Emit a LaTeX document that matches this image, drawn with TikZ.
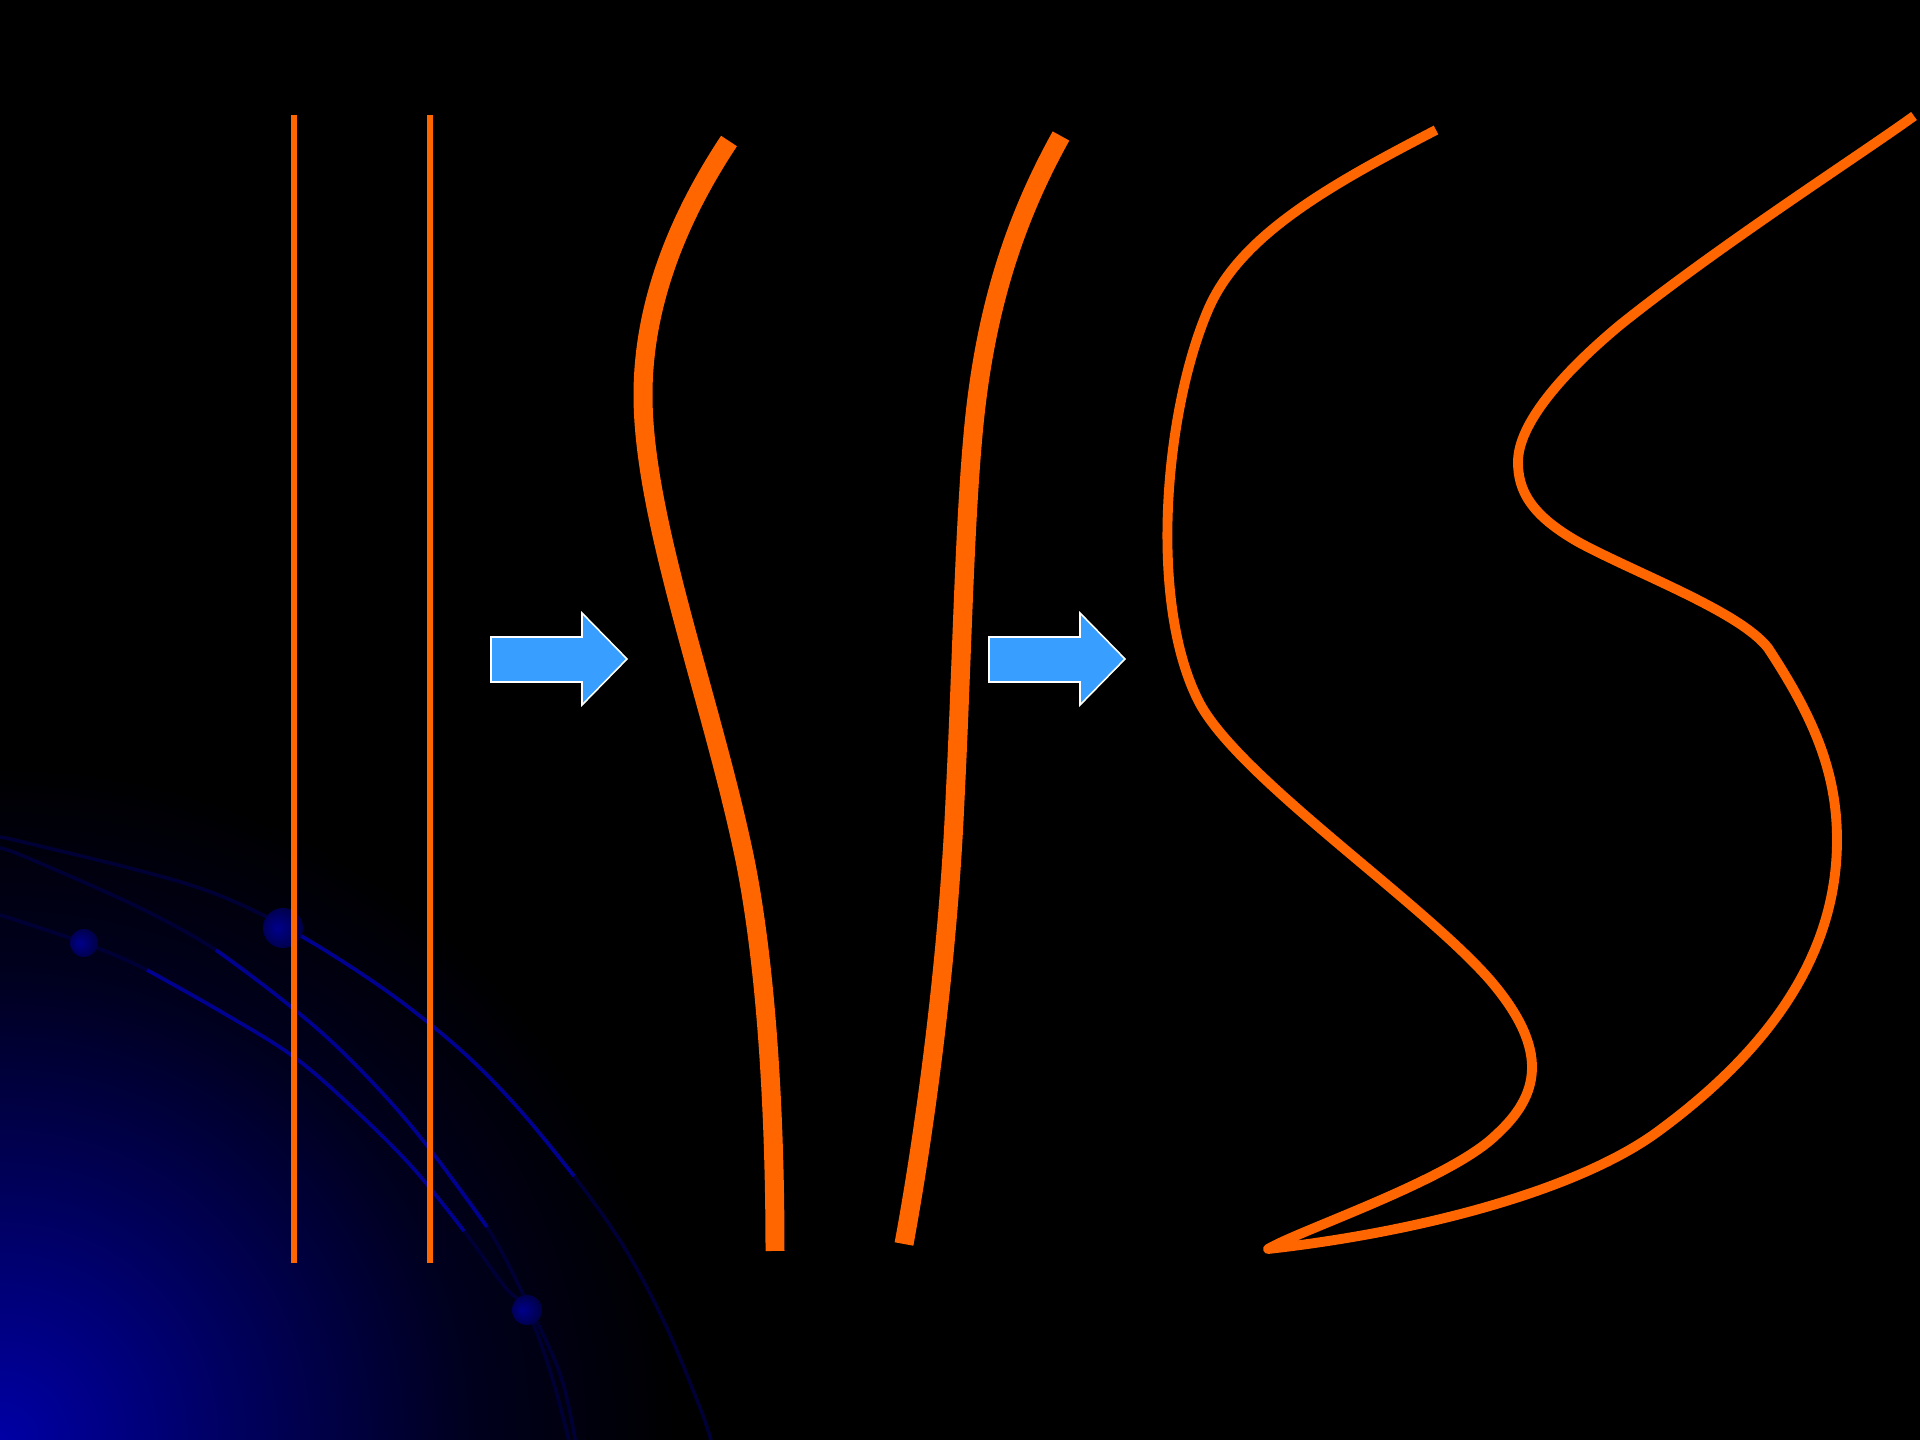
\documentclass[tikz,border=0pt]{standalone}
\definecolor{org}{RGB}{255,102,0}
\definecolor{arrowblue}{RGB}{56,158,255}
\definecolor{navyA}{RGB}{0,0,145}
\definecolor{navyB}{RGB}{0,0,55}
\definecolor{dotA}{RGB}{0,0,140}
\definecolor{dotB}{RGB}{0,0,65}
\definecolor{glowA}{RGB}{0,0,165}
\definecolor{glowB}{RGB}{0,0,95}
\definecolor{glowC}{RGB}{0,0,30}
\pgfdeclareradialshading{cornerglow}{\pgfpoint{0bp}{0bp}}{color(0bp)=(glowA); color(8.7bp)=(glowB); color(17.3bp)=(glowC); color(25bp)=(black); color(50bp)=(black)}
\pgfdeclareradialshading{dotshade}{\pgfpoint{-8bp}{0bp}}{color(0bp)=(dotA); color(30bp)=(dotB); color(50bp)=(dotB)}
\tikzset{
  vline/.style={draw=org, line width=1.45pt},
  thickline/.style={draw=org, line width=5.4pt},
  thinline/.style={draw=org, line width=2.8pt, line join=round},
  arrowshape/.style={fill=arrowblue, draw=white, line width=0.45pt},
  arcdim/.style={draw=navyB, line width=1pt},
  arcbright/.style={draw=navyA, line width=1pt},
  ballstyle/.style={shading=dotshade}
}
\begin{document}
\begin{tikzpicture}[x=0.01cm,y=-0.01cm]
\useasboundingbox (0,0) rectangle (1920,1440);
\fill[black] (0,0) rectangle (1920,1440);
\begin{scope}
\clip (0,0) rectangle (1920,1440);
\shade[shading=cornerglow] (0,1440) circle (680);
% arcs
\draw[arcdim] plot[smooth,tension=0.6] coordinates {(0,838) (23,842) (184,883) (271,919) (331,954) (399,1000) (464,1053) (519,1109) (574,1176) (624,1247) (666,1326) (702,1413) (712,1445)};
\draw[arcbright] plot[smooth,tension=0.6] coordinates {(271,919) (331,954) (399,1000) (464,1053) (519,1109) (574,1176)};
\draw[arcdim] plot[smooth,tension=0.6] coordinates {(0,848) (28,858) (138,907) (216,950) (275,994) (331,1041) (386,1097) (432,1152) (487,1227) (523,1294) (560,1374) (576,1445)};
\draw[arcbright] plot[smooth,tension=0.6] coordinates {(216,950) (275,994) (331,1041) (386,1097) (432,1152) (487,1227)};
\draw[arcdim] plot[smooth,tension=0.6] coordinates {(0,915) (84,943) (147,970) (225,1014) (294,1057) (354,1109) (413,1168) (464,1231) (505,1287) (527,1310) (551,1374) (570,1445)};
\draw[arcbright] plot[smooth,tension=0.6] coordinates {(147,970) (225,1014) (294,1057) (354,1109) (413,1168) (464,1231)};
\shade[ballstyle] (283,928) circle (20);
\shade[ballstyle] (84,943) circle (14);
\shade[ballstyle] (527,1310) circle (15);
\end{scope}
% vertical lines
\draw[vline] (294,115) -- (294,1263);
\draw[vline] (430,115) -- (430,1263);
% arrows
\draw[arrowshape] (491,637) -- (582,637) -- (582,613) -- (627,659) -- (582,705) -- (582,682) -- (491,682) -- cycle;
\draw[arrowshape] (989,637) -- (1080,637) -- (1080,613) -- (1125,659) -- (1080,705) -- (1080,682) -- (989,682) -- cycle;
% thick curves
\draw[thickline] (729,141) .. controls (690,200) and (643,290) .. (643,395)
  .. controls (643,520) and (712,700) .. (745,860)
  .. controls (765,960) and (775,1100) .. (775,1251);
\draw[thickline] (1061,136) .. controls (1020,210) and (985,300) .. (973,435)
  .. controls (964,535) and (962,660) .. (955,800)
  .. controls (948,960) and (925,1130) .. (904,1244);
% right S curve
\draw[thinline] (1436,130) .. controls (1330,185) and (1240,235) .. (1208,310)
  .. controls (1165,410) and (1148,600) .. (1198,700)
  .. controls (1235,775) and (1420,900) .. (1490,980)
  .. controls (1550,1050) and (1540,1095) .. (1496,1135)
  .. controls (1450,1180) and (1300,1230) .. (1268,1249)
  .. controls (1420,1232) and (1580,1190) .. (1660,1130)
  .. controls (1775,1045) and (1837,950) .. (1837,840)
  .. controls (1837,770) and (1812,715) .. (1768,648)
  .. controls (1740,612) and (1640,575) .. (1580,543)
  .. controls (1530,515) and (1518,490) .. (1518,462)
  .. controls (1518,425) and (1560,375) .. (1620,325)
  .. controls (1720,245) and (1860,155) .. (1914,116);
\end{tikzpicture}
\end{document}
